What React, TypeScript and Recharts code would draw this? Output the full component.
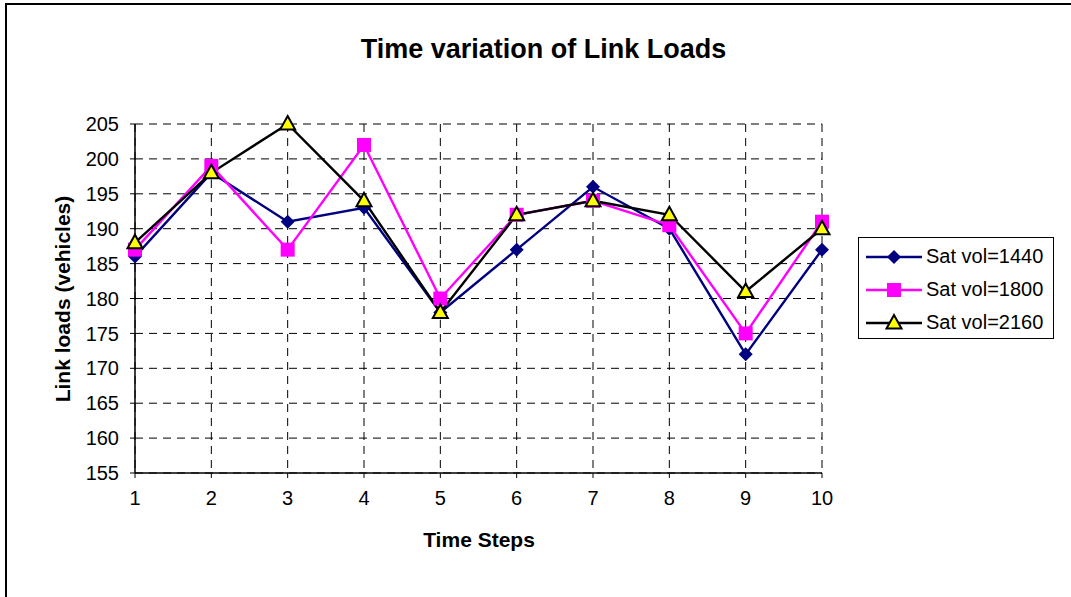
import React from 'react'
import { LineChart, Line, XAxis, YAxis, CartesianGrid } from 'recharts'

const FONT = '"Liberation Sans", Arial, sans-serif'

const steps = [1, 2, 3, 4, 5, 6, 7, 8, 9, 10]
const sat1440 = [186, 198, 191, 193, 178, 187, 196, 190, 172, 187]
const sat1800 = [187, 199, 187, 202, 180, 192, 194, 190.5, 175, 191]
const sat2160 = [188, 198, 205, 194, 178, 192, 194, 192, 181, 190]
const yTicks = [155, 160, 165, 170, 175, 180, 185, 190, 195, 200, 205]

const data = steps.map((s, i) => ({
  step: s,
  s1440: sat1440[i],
  s1800: sat1800[i],
  s2160: sat2160[i],
}))

const series = [
  { key: 's1440', name: 'Sat vol=1440', color: '#000080', marker: 'diamond' },
  { key: 's1800', name: 'Sat vol=1800', color: '#FF00FF', marker: 'square' },
  { key: 's2160', name: 'Sat vol=2160', color: '#000000', marker: 'triangle' },
]

const Marker = ({ kind, cx, cy }: { kind: string; cx: number; cy: number }) => {
  if (kind === 'diamond') {
    const r = 7
    return (
      <polygon
        points={`${cx},${cy - r} ${cx + r},${cy} ${cx},${cy + r} ${cx - r},${cy}`}
        fill="#000080"
      />
    )
  }
  if (kind === 'square') {
    return <rect x={cx - 7} y={cy - 7} width={14} height={14} fill="#FF00FF" />
  }
  return (
    <polygon
      points={`${cx},${cy - 8} ${cx + 7.5},${cy + 5.5} ${cx - 7.5},${cy + 5.5}`}
      fill="#FFFF00"
      stroke="#000"
      strokeWidth={2}
    />
  )
}

const makeDot = (kind: string) => (props: any) => {
  const { cx, cy, index } = props
  if (cx == null || cy == null) return <g key={index} />
  return (
    <g key={`${kind}-${index}`}>
      <Marker kind={kind} cx={cx} cy={cy} />
    </g>
  )
}

const LegendBox = () => (
  <div
    style={{
      position: 'absolute',
      left: 858,
      top: 237,
      width: 196,
      height: 102,
      border: '1px solid #000',
      background: '#fff',
      padding: '2px 0 0 7px',
      fontSize: 20,
      boxSizing: 'border-box',
    }}
  >
    {series.map((s) => (
      <div key={s.key} style={{ display: 'flex', alignItems: 'center', height: 33 }}>
        <svg width={56} height={20} style={{ marginRight: 4, flex: 'none' }}>
          <line x1={0} y1={10} x2={56} y2={10} stroke={s.color} strokeWidth={2.4} />
          <Marker kind={s.marker} cx={28} cy={10} />
        </svg>
        <span style={{ whiteSpace: 'nowrap' }}>{s.name}</span>
      </div>
    ))}
  </div>
)

export default function App() {
  return (
    <div
      style={{
        position: 'absolute',
        left: 0,
        top: 0,
        width: 1071,
        height: 597,
        overflow: 'hidden',
        background: '#fff',
        fontFamily: FONT,
      }}
    >
      {/* chart frame, only top and left edges fall inside the view */}
      <div
        style={{
          position: 'absolute',
          left: 5,
          top: 3,
          width: 1200,
          height: 700,
          borderLeft: '2px solid #000',
          borderTop: '2px solid #000',
        }}
      />
      <div style={{ position: 'absolute', left: 0, top: 0 }}>
        <LineChart
          width={1071}
          height={597}
          data={data}
          margin={{ top: 124, right: 249, bottom: 94, left: 55 }}
        >
          <CartesianGrid stroke="#000" strokeDasharray="8 6" strokeWidth={1} />
          <XAxis
            dataKey="step"
            type="number"
            domain={[1, 10]}
            ticks={steps}
            height={30}
            tickSize={5}
            tickMargin={13}
            stroke="#000"
            tick={{ fill: '#000', fontSize: 20, fontFamily: FONT }}
            axisLine={{ stroke: '#000', strokeWidth: 1.5 }}
            interval={0}
          />
          <YAxis
            type="number"
            domain={[155, 205]}
            ticks={yTicks}
            width={80}
            tickSize={5}
            tickMargin={11}
            stroke="#000"
            tick={{ fill: '#000', fontSize: 20, fontFamily: FONT }}
            axisLine={{ stroke: '#000', strokeWidth: 1.5 }}
            interval={0}
          />
          {series.map((s) => (
            <Line
              key={s.key}
              dataKey={s.key}
              name={s.name}
              type="linear"
              stroke={s.color}
              strokeWidth={2.4}
              dot={makeDot(s.marker)}
              activeDot={false}
              isAnimationActive={false}
            />
          ))}
        </LineChart>
      </div>
      <div
        style={{
          position: 'absolute',
          left: 0,
          width: 1087,
          top: 34,
          textAlign: 'center',
          fontWeight: 'bold',
          fontSize: 27,
        }}
      >
        Time variation of Link Loads
      </div>
      <div
        style={{
          position: 'absolute',
          left: 379,
          width: 200,
          top: 528,
          textAlign: 'center',
          fontWeight: 'bold',
          fontSize: 21,
        }}
      >
        Time Steps
      </div>
      <div
        style={{
          position: 'absolute',
          left: 63,
          top: 299,
          width: 260,
          textAlign: 'center',
          fontWeight: 'bold',
          fontSize: 21,
          whiteSpace: 'nowrap',
          transform: 'translate(-50%, -50%) rotate(-90deg)',
        }}
      >
        Link loads (vehicles)
      </div>
      <LegendBox />
    </div>
  )
}
